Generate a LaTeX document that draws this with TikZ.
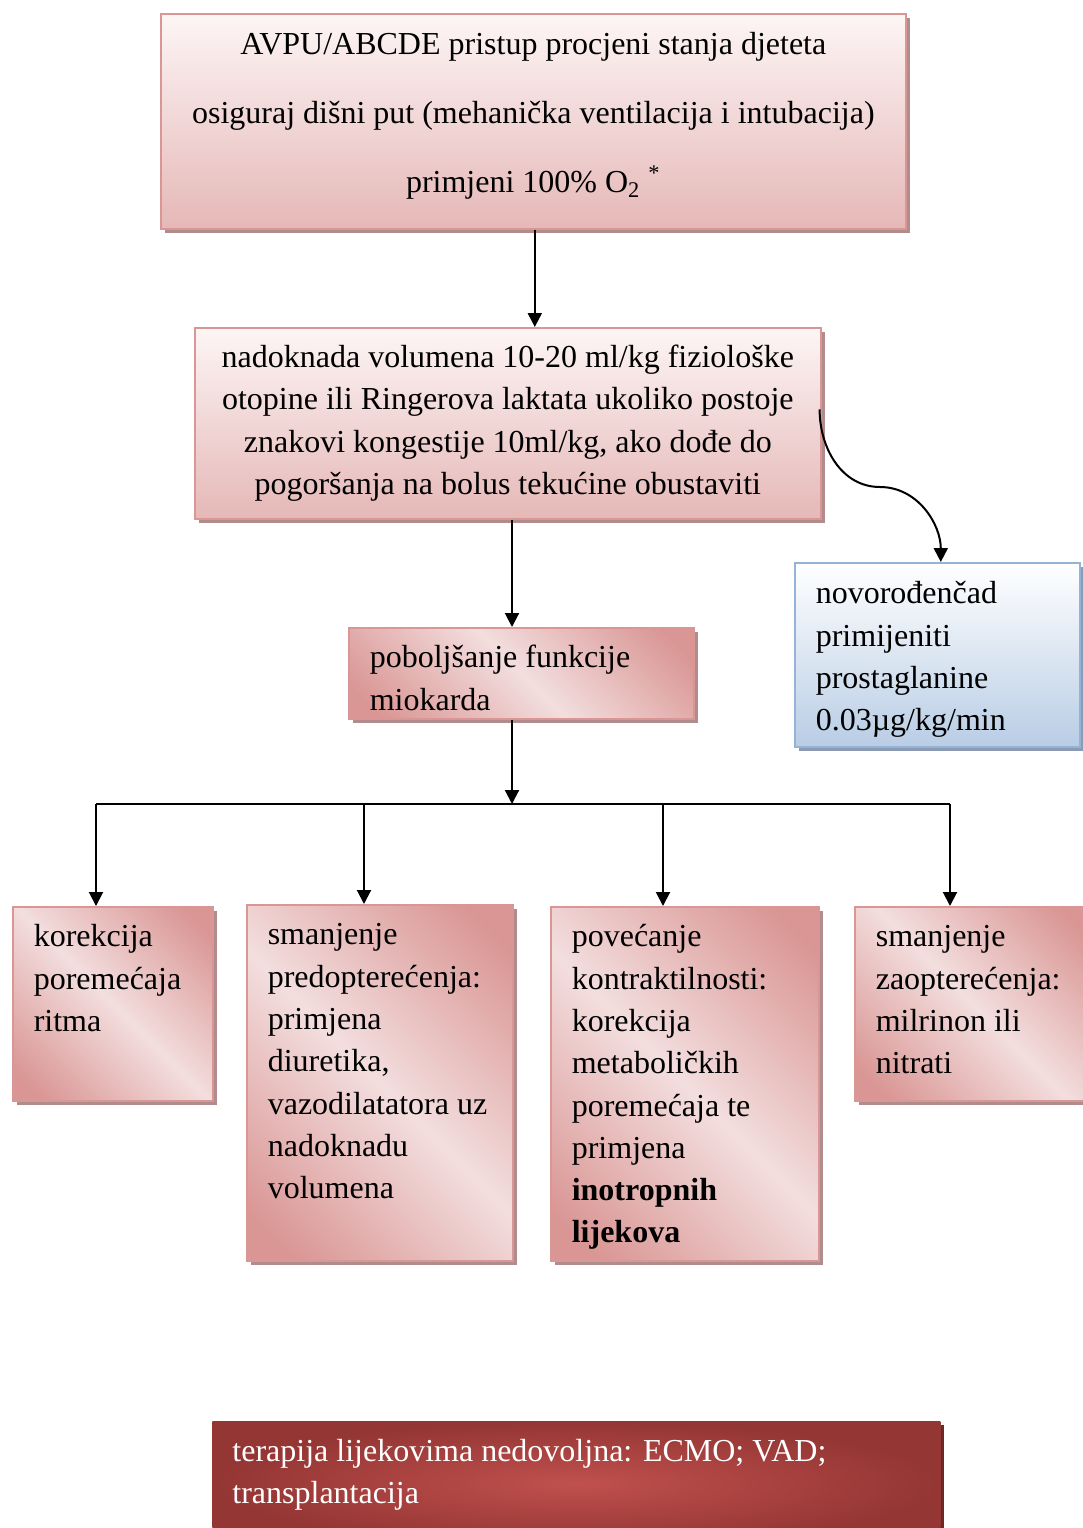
\documentclass[tikz,border=0pt]{standalone}
\usepackage{fontspec}
\setmainfont{Liberation Serif}
\usetikzlibrary{positioning, shadows, arrows.meta}

\definecolor{rosetop}{RGB}{253,245,245}
\definecolor{rosebot}{RGB}{229,184,183}
\definecolor{roseD}{RGB}{217,150,148}
\definecolor{roseL}{RGB}{243,222,222}
\definecolor{roseline}{RGB}{217,150,148}
\definecolor{roseshadow}{RGB}{176,140,140}
\definecolor{bluebot}{RGB}{185,205,229}
\definecolor{blueline}{RGB}{149,179,215}
\definecolor{blueshadow}{RGB}{140,155,180}
\definecolor{redin}{RGB}{192,80,77}
\definecolor{redout}{RGB}{148,54,52}
\definecolor{redshadow}{RGB}{110,40,38}

\pgfdeclarehorizontalshading{rosediag}{100bp}{color(0bp)=(roseD); color(20bp)=(roseD); color(50bp)=(roseL); color(80bp)=(roseD); color(100bp)=(roseD)}

\tikzset{
  arr/.style={line width=1pt, -{Triangle[width=7pt,length=7pt]}},
  bus/.style={line width=1pt},
  vbox/.style={draw=roseline, line width=0.8pt, top color=rosetop, bottom color=rosebot,
    align=flush center, inner sep=0pt, anchor=north west,
    font=\fontsize{16}{21.15}\selectfont,
    drop shadow={shadow xshift=2pt, shadow yshift=-2pt, fill=roseshadow, opacity=1}},
  dbox/.style={draw=roseline, line width=0.8pt, shading=rosediag, shading angle=45,
    align=flush left, inner xsep=10.5pt, inner ysep=0pt, text height=20pt, anchor=north west,
    font=\fontsize{16}{21.15}\selectfont,
    drop shadow={shadow xshift=2pt, shadow yshift=-2pt, fill=roseshadow, opacity=1}},
  bbox/.style={draw=blueline, line width=0.8pt, top color=white, bottom color=bluebot,
    align=flush left, inner xsep=10.5pt, inner ysep=0pt, text height=20.5pt, anchor=north west,
    font=\fontsize{16}{21.15}\selectfont,
    drop shadow={shadow xshift=2pt, shadow yshift=-2pt, fill=blueshadow, opacity=1}},
  rbox/.style={inner color=redin, outer color=redout, text=white,
    align=flush left, inner xsep=10pt, inner ysep=0pt, text height=20pt, anchor=north west,
    font=\fontsize{16}{21.15}\selectfont,
    drop shadow={shadow xshift=2pt, shadow yshift=-2pt, fill=redshadow, opacity=1}}
}

\begin{document}
\begin{tikzpicture}[x=0.5pt, y=-0.5pt]
\useasboundingbox (0,0) rectangle (1083,1528);

% boxes
\node[vbox, text width=372.5pt, text height=20.5pt, text depth=87pt, font=\fontsize{16}{34.5}\selectfont] (assess) at (160,13)
  {AVPU/ABCDE pristup procjeni stanja djeteta\\
   osiguraj dišni put (mehanička ventilacija i intubacija)\\
   primjeni 100\% O\textsubscript{2}\hspace{4pt}\textsuperscript{*}};
\node[vbox, minimum width=313pt, minimum height=95.5pt] (volume) at (194,327)
  {nadoknada volumena 10-20 ml/kg fiziološke\\
   otopine ili Ringerova laktata ukoliko postoje\\
   znakovi kongestije 10ml/kg, ako dođe do\\
   pogoršanja na bolus tekućine obustaviti};
\node[dbox, text width=151.5pt, text depth=25.5pt] (myo) at (348,627)
  {poboljšanje funkcije\\miokarda};
\node[bbox, text width=121.5pt, text depth=71.5pt] (neo) at (794,562)
  {novorođenčad\\primijeniti\\prostaglanine\\0.03µg/kg/min};

\node[dbox, text width=79pt, text depth=77pt] (rhythm) at (12,906)
  {korekcija\\poremećaja\\ritma};
\node[dbox, text width=112pt, text depth=158pt] (preload) at (246,904)
  {smanjenje\\predopterećenja:\\primjena\\diuretika,\\vazodilatatora uz\\nadoknadu\\volumena};
\node[dbox, text width=113pt, text depth=157pt] (contract) at (550,906)
  {povećanje\\kontraktilnosti:\\korekcija\\metaboličkih\\poremećaja te\\primjena\\\textbf{inotropnih}\\\textbf{lijekova}};
\node[dbox, text width=97pt, text depth=77pt] (afterload) at (854,906)
  {smanjenje\\zaopterećenja:\\milrinon ili\\nitrati};

\node[rbox, text width=344pt, text depth=42pt] (ecmo) at (212,1421)
  {terapija lijekovima nedovoljna: ECMO; VAD;\\transplantacija};

% connectors
\coordinate (split) at (512,804);
\coordinate (busA) at (96,804);
\coordinate (busB) at (364,804);
\coordinate (busC) at (663,804);
\coordinate (busD) at (950,804);
\coordinate (bend) at (880,487);

\draw[arr] ([xshift=0.75pt]assess.south) -- ([xshift=0.75pt]assess.south |- volume.north);
\draw[arr] (split |- volume.south) -- (split |- myo.north);
\draw[arr] (split |- myo.south) -- (split);
\draw[bus] (busA) -- (busD);
\draw[arr] (busA) -- (busA |- rhythm.north);
\draw[arr] (busB) -- (busB |- preload.north);
\draw[arr] (busC) -- (busC |- contract.north);
\draw[arr] (busD) -- (busD |- afterload.north);
\draw[arr] ([yshift=7pt,xshift=-1pt]volume.east) to[out=-90, in=180] (bend)
  to[out=0, in=90] ([xshift=1.75pt]neo.north);
\end{tikzpicture}
\end{document}
